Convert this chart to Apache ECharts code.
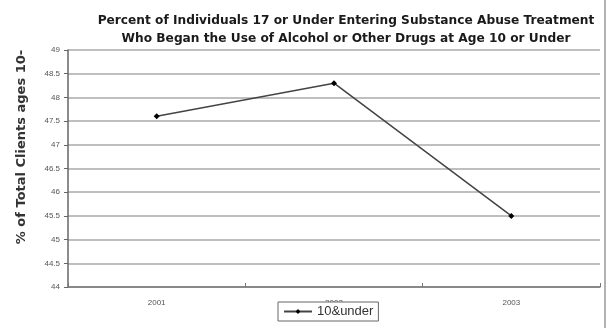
<!DOCTYPE html>
<html>
<head>
<meta charset="utf-8">
<script src="https://cdn.jsdelivr.net/npm/echarts@6/dist/echarts.min.js"></script>
<style>
  html, body { margin: 0; padding: 0; background: #fff; }
  #chart { width: 611px; height: 328px; }
</style>
</head>
<body>
<div id="chart"></div>
<script>
// Share of young clients who started alcohol/drug use at age 10 or under
const years = ['2001', '2002', '2003'];
const under10 = [47.6, 48.3, 45.5];
const yTicks = ['44', '44.5', '45', '45.5', '46', '46.5', '47', '47.5', '48', '48.5', '49'];

const chart = echarts.init(document.getElementById('chart'));
chart.setOption({
  animation: false,
  backgroundColor: '#fff',
  title: {
    text: 'Percent of Individuals 17 or Under Entering Substance Abuse Treatment\nWho Began the Use of Alcohol or Other Drugs at Age 10 or Under',
    left: 341,
    top: 7,
    textAlign: 'center',
    textStyle: {
      fontFamily: 'DejaVu Sans, sans-serif',
      fontSize: 12.2,
      fontWeight: 'bold',
      color: '#1a1a1a',
      lineHeight: 18
    }
  },
  grid: { left: 68, right: 11, top: 50, bottom: 41 },
  xAxis: {
    type: 'category',
    data: years,
    boundaryGap: true,
    axisLine: { lineStyle: { color: '#777', width: 1.5 } },
    axisTick: { show: true, length: 4, inside: true, lineStyle: { color: '#777' } },
    axisLabel: {
      margin: 12,
      fontFamily: 'Liberation Sans, Arial, sans-serif',
      fontSize: 8,
      color: '#555'
    }
  },
  yAxis: {
    type: 'value',
    min: 44,
    max: 49,
    interval: 0.5,
    axisLine: { show: true, lineStyle: { color: '#666', width: 1.5 } },
    axisTick: { show: true, length: 4, lineStyle: { color: '#666' } },
    axisLabel: {
      margin: 8,
      fontFamily: 'Liberation Sans, Arial, sans-serif',
      fontSize: 8,
      color: '#555',
      formatter: function (v) { return yTicks[Math.round((v - 44) / 0.5)]; }
    },
    splitLine: { lineStyle: { color: '#aaa', width: 1.5 } }
  },
  legend: {
    data: ['10&under'],
    left: 278,
    top: 302,
    orient: 'horizontal',
    backgroundColor: '#fff',
    borderColor: '#666',
    borderWidth: 1,
    borderRadius: 0,
    padding: [3, 5, 3, 5],
    itemWidth: 28,
    itemHeight: 6,
    itemGap: 4,
    textStyle: {
      fontFamily: 'Liberation Sans, Arial, sans-serif',
      fontSize: 13,
      color: '#333'
    }
  },
  series: [{
    name: '10&under',
    type: 'line',
    data: under10,
    symbol: 'diamond',
    symbolSize: 6,
    lineStyle: { color: '#444', width: 1.5 },
    itemStyle: { color: '#000' }
  }],
  graphic: [{
    type: 'text',
    x: 22,
    y: 147,
    rotation: Math.PI / 2,
    style: {
      text: '% of Total Clients ages 10-',
      font: 'bold 13px "DejaVu Sans", sans-serif',
      fill: '#333',
      align: 'center',
      verticalAlign: 'middle'
    }
  }, {
    type: 'line',
    shape: { x1: 605, y1: 0, x2: 605, y2: 328 },
    style: { stroke: '#999', lineWidth: 1.5 }
  }]
});
</script>
</body>
</html>
